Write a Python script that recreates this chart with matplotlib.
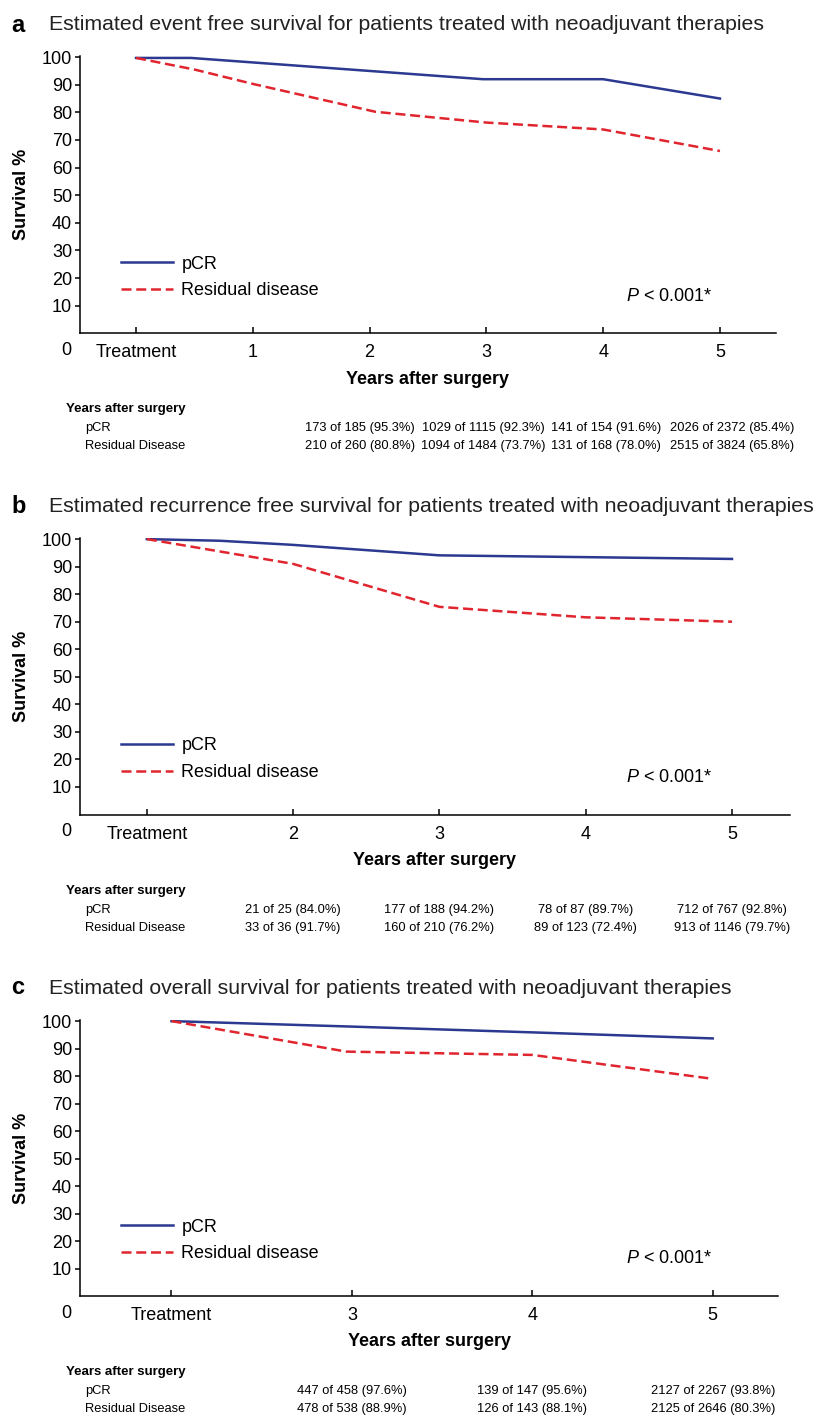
import matplotlib.pyplot as plt
from matplotlib.lines import Line2D
from matplotlib.transforms import blended_transform_factory

plt.rcParams['font.family'] = ['Liberation Sans', 'DejaVu Sans']
plt.rcParams['mathtext.fontset'] = 'custom'
plt.rcParams['mathtext.it'] = 'Liberation Sans:italic'
plt.rcParams['mathtext.rm'] = 'Liberation Sans'

# a: event free survival
efs_pcr_t = [0, 0.47, 2.97, 4, 5]
efs_pcr = [99.7, 99.7, 92.0, 92.0, 85.0]
efs_rd_t = [0, 0.5, 1, 2.05, 3, 4, 5]
efs_rd = [99.7, 95.5, 90.3, 80.2, 76.3, 73.8, 66.0]
efs_ticks = [0, 1, 2, 3, 4, 5]
efs_ticklabels = ['Treatment', '1', '2', '3', '4', '5']
efs_cols = [2, 3, 4, 5]
efs_tab_pcr = ['173 of 185 (95.3%)', '1029 of 1115 (92.3%)',
               '141 of 154 (91.6%)', '2026 of 2372 (85.4%)']
efs_tab_rd = ['210 of 260 (80.8%)', '1094 of 1484 (73.7%)',
              '131 of 168 (78.0%)', '2515 of 3824 (65.8%)']

# b: recurrence free survival
rfs_pcr_t = [1, 1.5, 2, 3, 5]
rfs_pcr = [100.0, 99.4, 97.9, 94.1, 92.8]
rfs_rd_t = [1, 2, 3, 4, 5]
rfs_rd = [100.0, 91.0, 75.4, 71.6, 70.0]
rfs_ticks = [1, 2, 3, 4, 5]
rfs_ticklabels = ['Treatment', '2', '3', '4', '5']
rfs_cols = [2, 3, 4, 5]
rfs_tab_pcr = ['21 of 25 (84.0%)', '177 of 188 (94.2%)',
               '78 of 87 (89.7%)', '712 of 767 (92.8%)']
rfs_tab_rd = ['33 of 36 (91.7%)', '160 of 210 (76.2%)',
              '89 of 123 (72.4%)', '913 of 1146 (79.7%)']

# c: overall survival
os_pcr_t = [2, 3, 4, 5]
os_pcr = [100.0, 98.0, 95.9, 93.7]
os_rd_t = [2, 2.97, 4, 5]
os_rd = [100.0, 88.9, 87.7, 79.0]
os_ticks = [2, 3, 4, 5]
os_ticklabels = ['Treatment', '3', '4', '5']
os_cols = [3, 4, 5]
os_tab_pcr = ['447 of 458 (97.6%)', '139 of 147 (95.6%)', '2127 of 2267 (93.8%)']
os_tab_rd = ['478 of 538 (88.9%)', '126 of 143 (88.1%)', '2125 of 2646 (80.3%)']

BLUE = '#2b3990'
RED = '#e0252f'
W, H = 817, 1418

fig = plt.figure(figsize=(W / 100, H / 100), dpi=100)


def panel(letter, title, title_y, top, bottom, right, xlim,
          pcr_t, pcr, rd_t, rd, ticks, ticklabels, cols, tab_pcr, tab_rd,
          nudge=None):
    left = 80
    ax = fig.add_axes([left / W, 1 - bottom / H, (right - left) / W, (bottom - top) / H])
    fig.text(11 / W, 1 - title_y / H, letter, fontsize=17, fontweight='bold', va='center')
    fig.text(49 / W, 1 - title_y / H, title, fontsize=15.3, va='center', color='#222222')

    ax.plot(pcr_t, pcr, color=BLUE, lw=1.8, solid_joinstyle='round')
    ax.plot(rd_t, rd, color=RED, lw=1.8, dashes=(4, 1.9))

    ax.set_xlim(*xlim)
    ax.set_ylim(0, 100.4)
    ax.set_yticks(range(10, 101, 10))
    ax.set_xticks(ticks)
    ax.set_xticklabels(ticklabels)
    for s in ('top', 'right'):
        ax.spines[s].set_visible(False)
    for s in ('left', 'bottom'):
        ax.spines[s].set_linewidth(1.1)
    ax.tick_params(axis='y', direction='out', length=3.6, width=1.1, pad=2, labelsize=13)
    ax.tick_params(axis='x', direction='in', length=4.5, width=1.1, pad=8, labelsize=13)

    ax.set_xlabel('Years after surgery', fontsize=13, fontweight='bold', va='center')
    ax.xaxis.set_label_coords(0.5, -46 / (bottom - top))
    ax.set_ylabel('Survival %', fontsize=13, fontweight='bold', va='center')
    ax.yaxis.set_label_coords(-58 / (right - left), 0.5)

    ax.annotate('0', xy=(66 / W, 0), xycoords=('figure fraction', 'axes fraction'),
                xytext=(0, -17), textcoords='offset pixels',
                ha='center', va='center', fontsize=13)

    handles = [Line2D([], [], color=BLUE, lw=1.8),
               Line2D([], [], color=RED, lw=1.8, dashes=(4, 1.9))]
    ax.legend(handles, ['pCR', 'Residual disease'], loc='center left',
              bbox_to_anchor=(121 / W, 20.2),
              bbox_transform=blended_transform_factory(fig.transFigure, ax.transData),
              frameon=False, borderpad=0, borderaxespad=0, fontsize=13,
              handlelength=2.88, handletextpad=0.46, labelspacing=0.55)

    ax.text(626 / W, 13.5, '$P$ < 0.001*', fontsize=13, va='center', ha='left',
            transform=blended_transform_factory(fig.transFigure, ax.transData))

    # numbers at risk below the axis
    lab = ('figure fraction', 'axes fraction')
    val = ('data', 'axes fraction')
    ax.annotate('Years after surgery', xy=(66 / W, 0), xycoords=lab,
                xytext=(0, -76), textcoords='offset pixels',
                va='center', fontsize=9.5, fontweight='bold')
    ax.annotate('pCR', xy=(85 / W, 0), xycoords=lab, xytext=(0, -95),
                textcoords='offset pixels', va='center', fontsize=9.3)
    ax.annotate('Residual Disease', xy=(85 / W, 0), xycoords=lab, xytext=(0, -113),
                textcoords='offset pixels', va='center', fontsize=9.3)
    if nudge is None:
        nudge = [0] * len(cols)
    for c, dx, p_txt, r_txt in zip(cols, nudge, tab_pcr, tab_rd):
        ax.annotate(p_txt, xy=(c, 0), xycoords=val, xytext=(dx, -95),
                    textcoords='offset pixels', ha='center', va='center', fontsize=9.3)
        ax.annotate(r_txt, xy=(c, 0), xycoords=val, xytext=(dx, -113),
                    textcoords='offset pixels', ha='center', va='center', fontsize=9.3)
    return ax


panel('a', 'Estimated event free survival for patients treated with neoadjuvant therapies',
      25, 56, 333.3, 776, (-0.48, 5.48),
      efs_pcr_t, efs_pcr, efs_rd_t, efs_rd, efs_ticks, efs_ticklabels,
      efs_cols, efs_tab_pcr, efs_tab_rd, nudge=[-10, -3, 3, 12])
panel('b', 'Estimated recurrence free survival for patients treated with neoadjuvant therapies',
      506.7, 538, 814.5, 789.5, (0.543, 5.393),
      rfs_pcr_t, rfs_pcr, rfs_rd_t, rfs_rd, rfs_ticks, rfs_ticklabels,
      rfs_cols, rfs_tab_pcr, rfs_tab_rd)
panel('c', 'Estimated overall survival for patients treated with neoadjuvant therapies',
      988, 1020, 1296, 778, (1.493, 5.362),
      os_pcr_t, os_pcr, os_rd_t, os_rd, os_ticks, os_ticklabels,
      os_cols, os_tab_pcr, os_tab_rd)

fig.savefig('out.png', dpi=100)
